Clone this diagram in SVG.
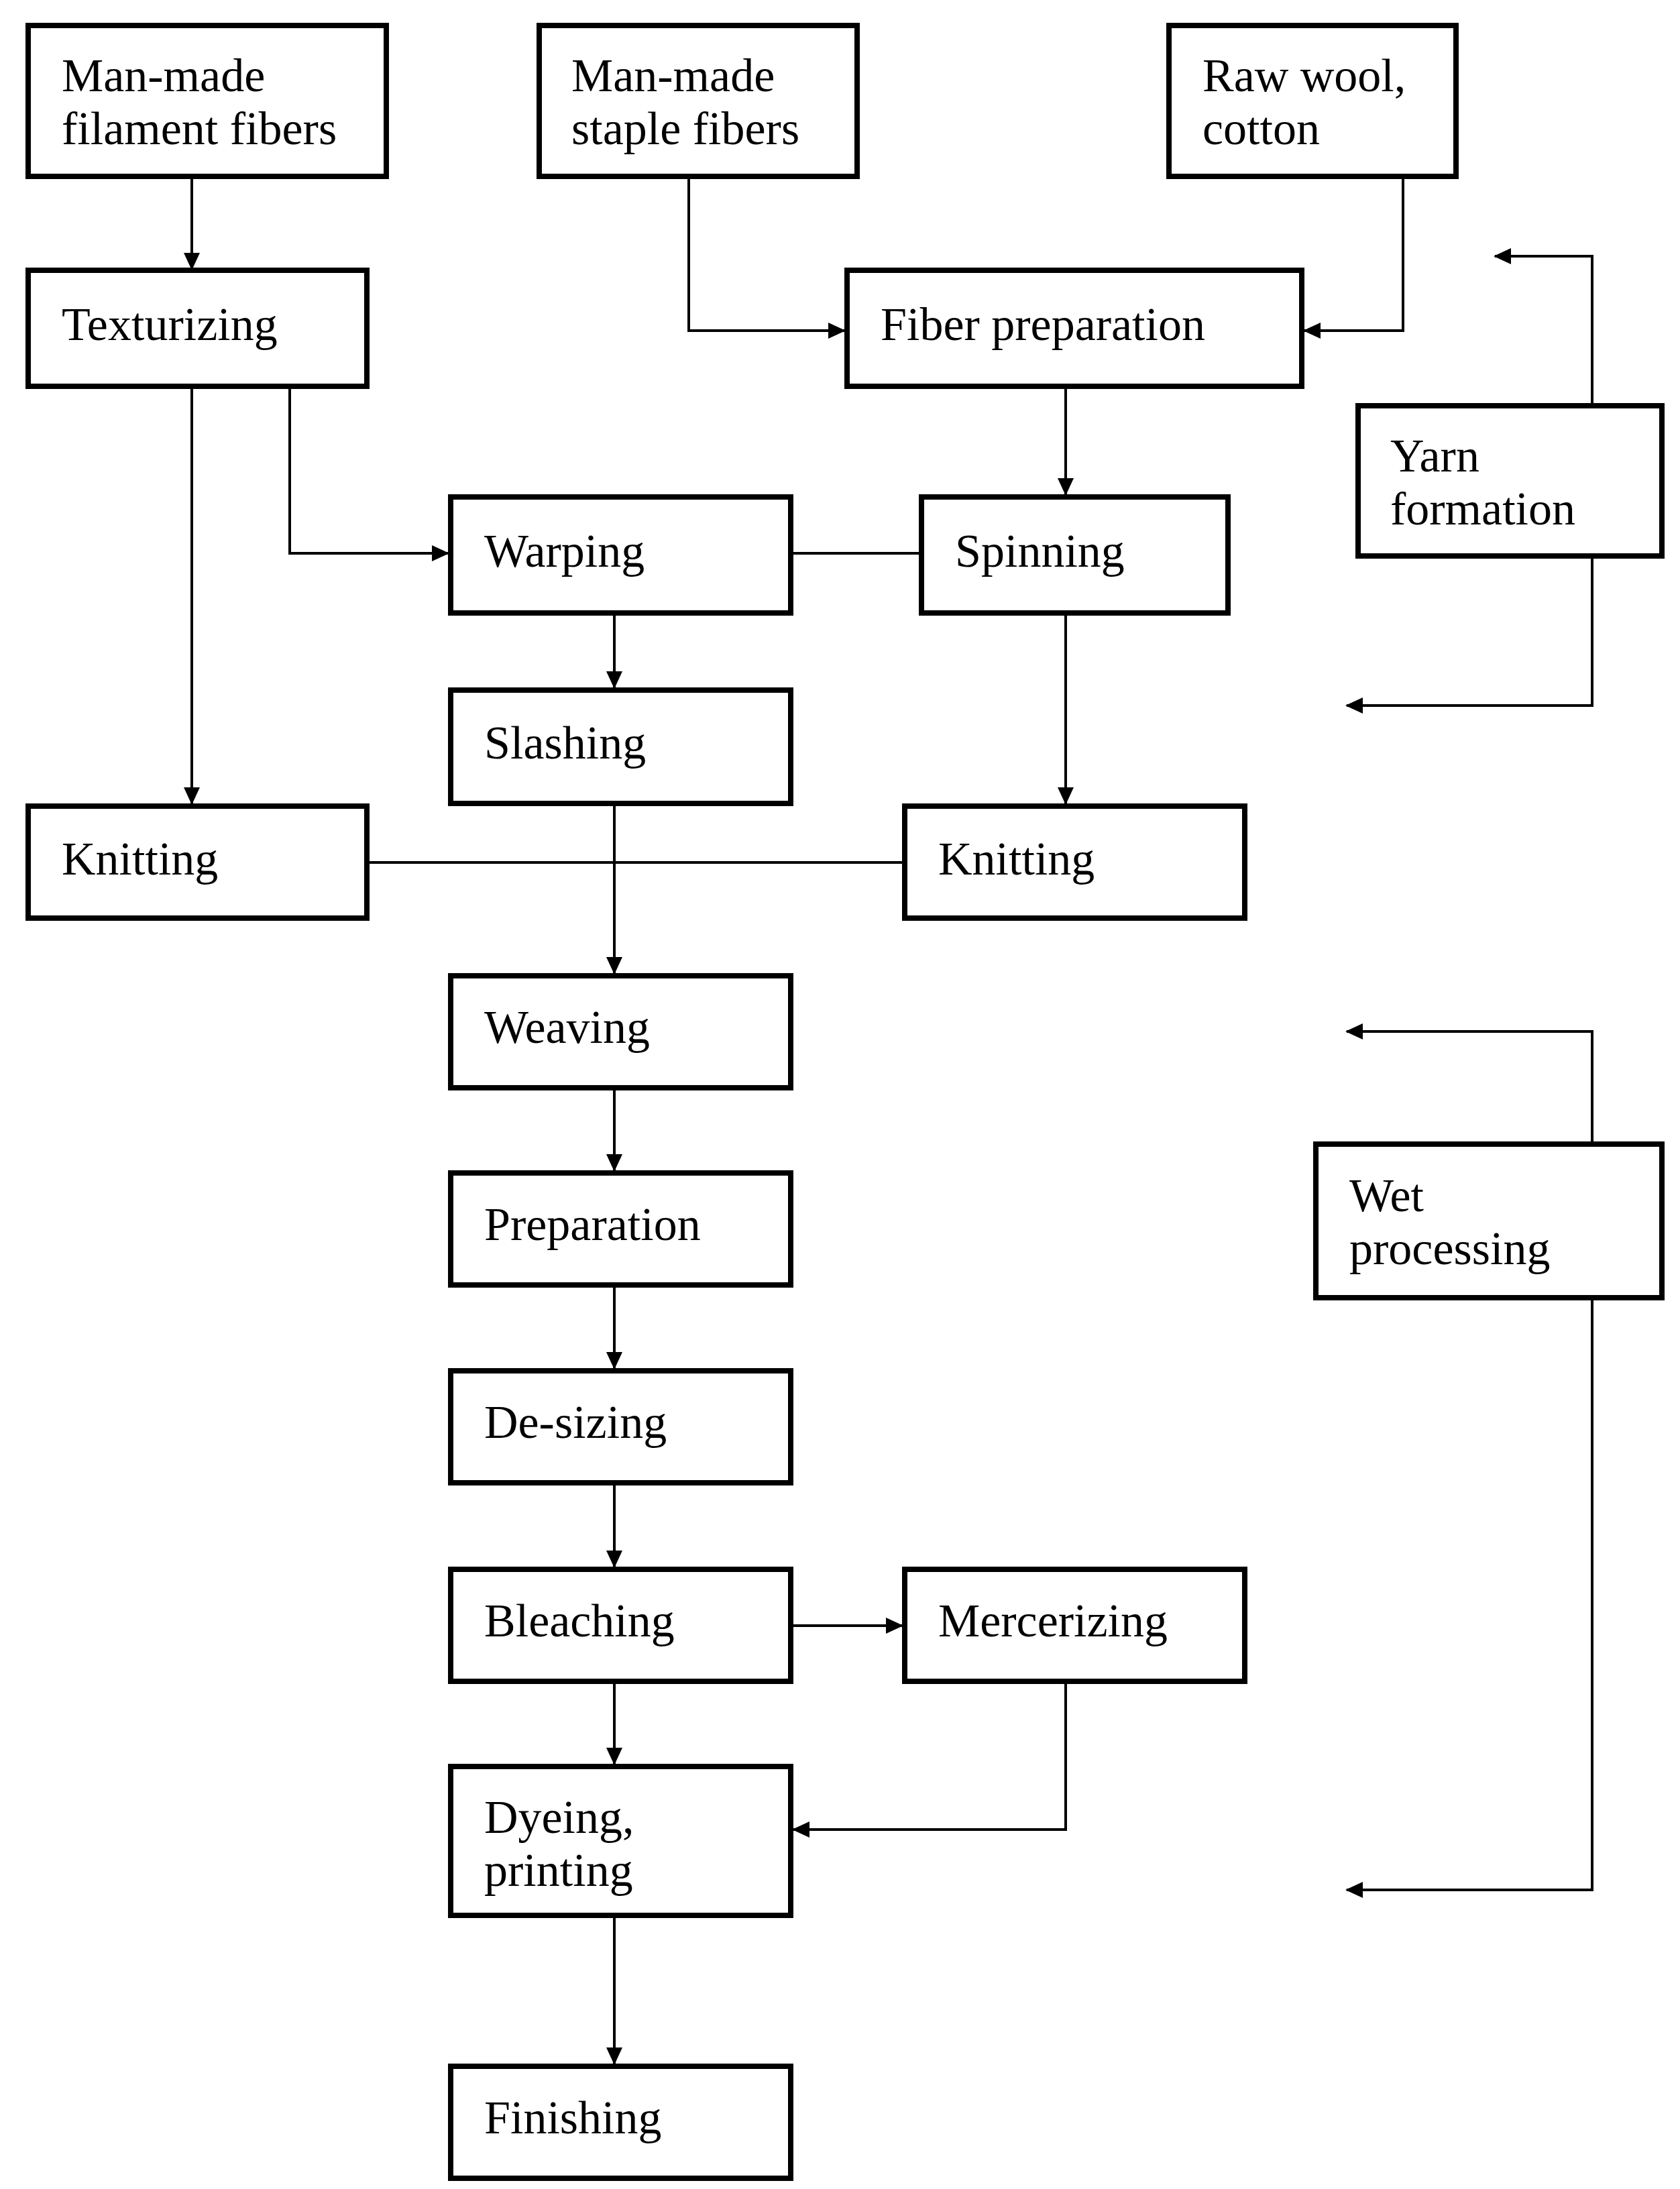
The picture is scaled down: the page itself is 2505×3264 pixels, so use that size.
<svg xmlns="http://www.w3.org/2000/svg" width="2505" height="3264" viewBox="0 0 2505 3264">
<style>
rect{fill:#fff;stroke:#000;stroke-width:8}
text{font-family:"Liberation Serif","Times New Roman",serif;font-size:70px;fill:#000}
#connectors path{fill:none;stroke:#000;stroke-width:4}
</style>
<defs><marker id="a" markerUnits="userSpaceOnUse" markerWidth="26" markerHeight="24" refX="24" refY="12" orient="auto"><path d="M0,0 L26,12 L0,24 Z" fill="#000"/></marker></defs>
<rect x="0" y="0" width="2505" height="3264" style="stroke:none"/>
<g id="connectors">
<path d="M286,263 V401" marker-end="url(#a)"/>
<path d="M1027,263 V493 H1259" marker-end="url(#a)"/>
<path d="M2092,263 V493 H1945" marker-end="url(#a)"/>
<path d="M2374,605 V382 H2229" marker-end="url(#a)"/>
<path d="M2374,829 V1052 H2008" marker-end="url(#a)"/>
<path d="M286,576 V1198" marker-end="url(#a)"/>
<path d="M432,576 V825 H668" marker-end="url(#a)"/>
<path d="M1179,825 H1374"/>
<path d="M1589,576 V737" marker-end="url(#a)"/>
<path d="M1589,914 V1198" marker-end="url(#a)"/>
<path d="M916,914 V1025" marker-end="url(#a)"/>
<path d="M916,1198 V1451" marker-end="url(#a)"/>
<path d="M547,1286 H1349"/>
<path d="M916,1622 V1745" marker-end="url(#a)"/>
<path d="M916,1916 V2040" marker-end="url(#a)"/>
<path d="M916,2211 V2336" marker-end="url(#a)"/>
<path d="M1179,2424 H1345" marker-end="url(#a)"/>
<path d="M916,2507 V2630" marker-end="url(#a)"/>
<path d="M1589,2507 V2728 H1183" marker-end="url(#a)"/>
<path d="M916,2856 V3077" marker-end="url(#a)"/>
<path d="M2374,1706 V1538 H2008" marker-end="url(#a)"/>
<path d="M2374,1935 V2818 H2008" marker-end="url(#a)"/>
</g>
<g id="n1"><rect x="42" y="38" width="534" height="225"/><text x="92" y="136">Man-made</text><text x="92" y="215">filament fibers</text></g>
<g id="n2"><rect x="804" y="38" width="474" height="225"/><text x="852" y="136">Man-made</text><text x="852" y="215">staple fibers</text></g>
<g id="n3"><rect x="1743" y="38" width="428" height="225"/><text x="1793" y="136">Raw wool,</text><text x="1793" y="215">cotton</text></g>
<g id="n4"><rect x="42" y="403" width="505" height="173"/><text x="92" y="507">Texturizing</text></g>
<g id="n5"><rect x="1263" y="403" width="678" height="173"/><text x="1313" y="507">Fiber preparation</text></g>
<g id="n6"><rect x="2025" y="605" width="453" height="224"/><text x="2073" y="703">Yarn</text><text x="2073" y="782">formation</text></g>
<g id="n7"><rect x="672" y="741" width="507" height="173"/><text x="722" y="845">Warping</text></g>
<g id="n8"><rect x="1374" y="741" width="457" height="173"/><text x="1424" y="845">Spinning</text></g>
<g id="n9"><rect x="672" y="1029" width="507" height="169"/><text x="722" y="1131">Slashing</text></g>
<g id="n10"><rect x="42" y="1202" width="505" height="167"/><text x="92" y="1304">Knitting</text></g>
<g id="n11"><rect x="1349" y="1202" width="507" height="167"/><text x="1399" y="1304">Knitting</text></g>
<g id="n12"><rect x="672" y="1455" width="507" height="167"/><text x="722" y="1555">Weaving</text></g>
<g id="n13"><rect x="672" y="1749" width="507" height="167"/><text x="722" y="1849">Preparation</text></g>
<g id="n14"><rect x="672" y="2044" width="507" height="167"/><text x="722" y="2144">De-sizing</text></g>
<g id="n15"><rect x="672" y="2340" width="507" height="167"/><text x="722" y="2440">Bleaching</text></g>
<g id="n16"><rect x="1349" y="2340" width="507" height="167"/><text x="1399" y="2440">Mercerizing</text></g>
<g id="n17"><rect x="672" y="2634" width="507" height="222"/><text x="722" y="2733">Dyeing,</text><text x="722" y="2812">printing</text></g>
<g id="n18"><rect x="672" y="3081" width="507" height="167"/><text x="722" y="3181">Finishing</text></g>
<g id="n19"><rect x="1962" y="1706" width="516" height="229"/><text x="2012" y="1806">Wet</text><text x="2012" y="1885">processing</text></g>
</svg>
